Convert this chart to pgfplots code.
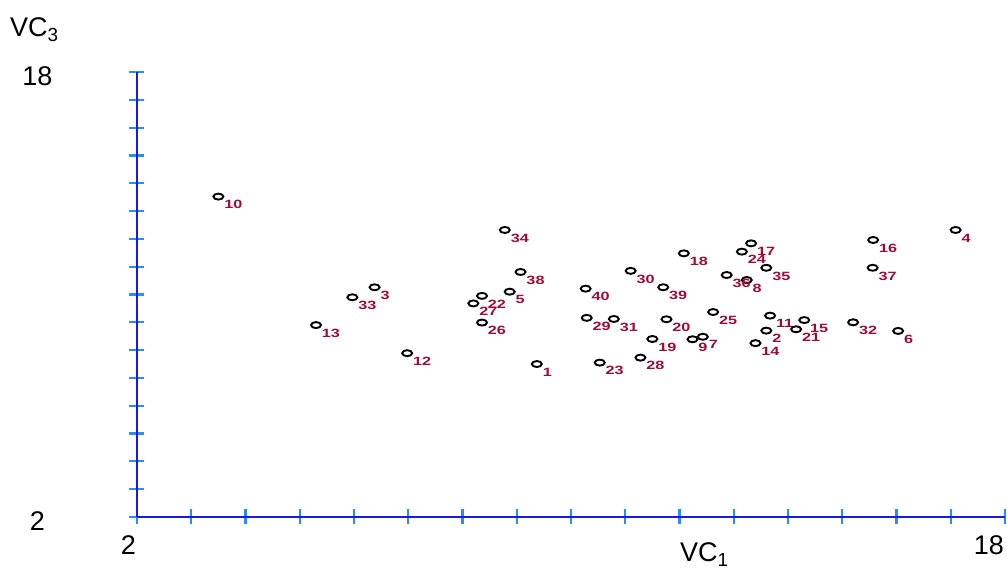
\documentclass[border=0pt]{standalone}
\usepackage{fontspec}
\setmainfont{Liberation Sans}
\usepackage{graphicx}
\usepackage{pgfplots}
\usepackage{pgfplotstable}
\pgfplotsset{compat=1.18}
\definecolor{axblue}{RGB}{25,25,235}
\definecolor{tkblue}{RGB}{40,140,250}
\definecolor{lblred}{RGB}{160,10,55}

\pgfplotstableread{
x y lab
9.37 7.50 1
13.60 8.70 2
6.38 10.26 3
17.09 12.32 4
8.87 10.10 5
16.03 8.69 6
12.43 8.48 7
13.24 10.52 8
12.24 8.39 9
3.50 13.52 10
13.67 9.24 11
6.98 7.89 12
5.30 8.90 13
13.40 8.25 14
14.30 9.08 15
15.57 11.96 16
13.32 11.84 17
12.08 11.48 18
11.50 8.40 19
11.76 9.11 20
14.15 8.75 21
8.36 9.95 22
10.53 7.55 23
13.15 11.54 24
12.62 9.37 25
8.36 8.99 26
8.20 9.68 27
11.28 7.73 28
10.29 9.16 29
11.10 10.85 30
10.79 9.12 31
15.20 9.00 32
5.97 9.90 33
8.78 12.32 34
13.60 10.96 35
12.87 10.70 36
15.56 10.96 37
9.07 10.81 38
11.70 10.26 39
10.27 10.21 40
}\pts

\begin{document}
\begin{tikzpicture}
\begin{axis}[
  scale only axis, width=868pt, height=445pt,
  xmin=2, xmax=18, ymin=2, ymax=18,
  clip=false,
  axis x line*=bottom, axis y line*=left,
  axis line style={-, draw=axblue, line width=2.4pt},
  xtick={2,...,18}, ytick={2,...,18},
  xticklabels={2,,,,,,,,,,,,,,,,18}, yticklabels={2,,,,,,,,,,,,,,,,18},
  tick align=center, major tick length=15pt,
  major tick style={draw=tkblue, line width=2.2pt},
  ticklabel style={font=\fontsize{27}{30}\selectfont, inner sep=0pt},
  xticklabel style={anchor=north east, yshift=-11pt, xshift=-1pt},
  yticklabel style={anchor=center, xshift=-92pt, yshift=-4pt},
  xlabel={VC\textsubscript{1}}, ylabel={VC\textsubscript{3}},
  every axis x label/.style={at={(rel axis cs:0.6256,0)}, anchor=base west, yshift=-45pt, inner sep=0pt, font=\fontsize{27}{30}\selectfont},
  every axis y label/.style={at={(rel axis cs:0,1)}, anchor=base west, xshift=-127pt, yshift=35pt, inner sep=0pt, font=\fontsize{27}{30}\selectfont},
]
\addplot[only marks, mark=o, mark size=5pt,
  mark options={draw=black, line width=1.9pt, yscale=0.6},
  nodes near coords={\scalebox{1.35}[1]{\pgfplotspointmeta}},
  point meta=explicit symbolic,
  every node near coord/.append style={anchor=north west, inner sep=0pt, xshift=5pt, yshift=-3pt,
    font=\fontsize{12}{12}\selectfont\bfseries, text=lblred}]
  table[x=x, y=y, meta=lab] {\pts};
\end{axis}
\pgfresetboundingbox
\path (-137pt,-53pt) rectangle (870pt,517pt);
\end{tikzpicture}
\end{document}
